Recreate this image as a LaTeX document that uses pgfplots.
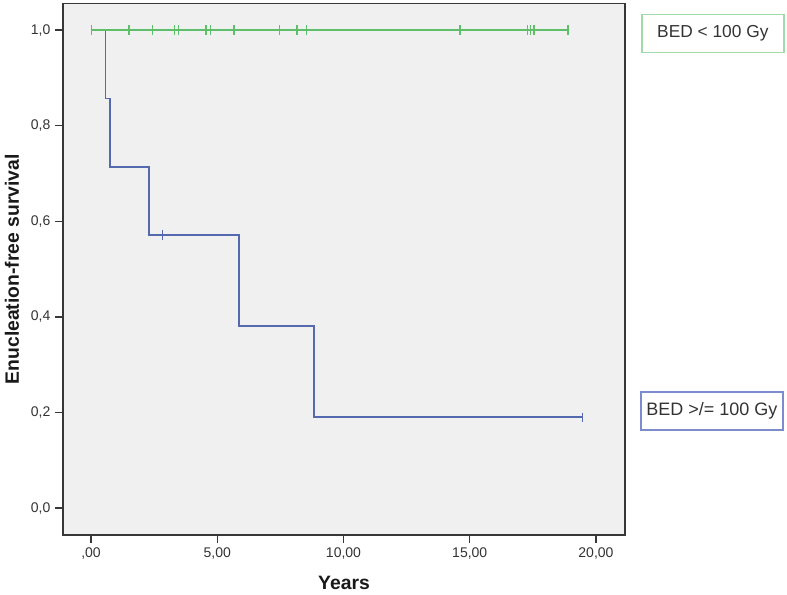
\documentclass[border=0pt]{standalone}
\usepackage{fontspec}
\setmainfont{Liberation Sans}
\usepackage{pgfplots}
\pgfplotsset{compat=1.18}
\definecolor{kmgreen}{RGB}{95,190,105}
\definecolor{kmblue}{RGB}{85,105,175}
\definecolor{bggray}{RGB}{240,240,240}
\definecolor{framegray}{RGB}{55,55,55}
\definecolor{boxgreen}{RGB}{160,220,170}
\definecolor{boxblue}{RGB}{125,140,205}
\begin{document}
\begin{tikzpicture}
\begin{axis}[name=km, scale only axis, width=421.5pt, height=398.8pt,
  xmin=-1.11, xmax=21.15, ymin=-0.0565, ymax=1.056,
  axis background/.style={fill=bggray},
  axis line style={framegray, line width=1.1pt},
  xtick={0,5,10,15,20}, xticklabels={{,00},{5,00},{10,00},{15,00},{20,00}},
  ytick={0,0.2,0.4,0.6,0.8,1}, yticklabels={{0,0},{0,2},{0,4},{0,6},{0,8},{1,0}},
  tick align=outside, xtick pos=bottom, ytick pos=left, major tick length=6pt,
  tick style={framegray, line width=1.1pt},
  ticklabel style={font=\fontsize{10.5}{12}\selectfont, text=black!80},
  xlabel={Years}, ylabel={Enucleation-free survival},
  label style={font=\fontsize{14.5}{17}\selectfont\bfseries, text=black!90},
  xlabel style={at={(axis description cs:0.5,-0.0903)}, anchor=center},
  ylabel style={at={(axis description cs:-0.0907,0.5)}, anchor=center},
  clip=false]
% BED >/= 100 Gy
\addplot[const plot, kmblue, line width=1.2pt, mark=none] coordinates {
  (0,1) (0.58,0.857) (0.75,0.714) (2.30,0.571) (5.85,0.381) (8.84,0.190) (19.47,0.190)};
\addplot[only marks, kmblue, mark=|, mark size=3.5pt, mark options={line width=1.1pt}] coordinates {
  (2.84,0.571) (19.47,0.190)};
% BED < 100 Gy
\addplot[kmgreen, line width=1.2pt, mark=none] coordinates {(0,1) (18.90,1)};
\addplot[only marks, kmgreen, mark=|, mark size=3.5pt, mark options={line width=1.1pt}] coordinates {
  (0.02,1) (1.50,1) (2.43,1) (3.30,1) (3.46,1) (4.55,1) (4.74,1) (5.66,1)
  (7.46,1) (8.15,1) (8.54,1) (14.61,1) (17.28,1) (17.41,1) (17.54,1) (18.90,1)};
\node[draw=boxgreen, line width=1pt, minimum width=106.5pt, minimum height=28.5pt,
  font=\fontsize{13}{15}\selectfont, text=black!80] at (axis cs:24.63,0.993) {BED < 100 Gy};
\node[draw=boxblue, line width=1pt, minimum width=106.5pt, minimum height=28.5pt,
  font=\fontsize{13.5}{15}\selectfont, text=black!80] at (axis cs:24.59,0.203) {BED >/= 100 Gy};
\end{axis}
\path ([shift={(-47.25pt,-43.5pt)}]km.south west) rectangle ([shift={(121.5pt,2.5pt)}]km.north east);
\end{tikzpicture}
\end{document}
